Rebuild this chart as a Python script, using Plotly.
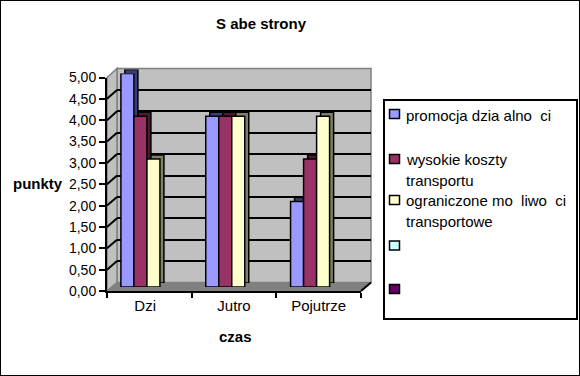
import plotly.graph_objects as go

# ---------------- data ----------------
categories = ["Dzi", "Jutro", "Pojutrze"]
tick_labels = ["Dzi\u00a0\u00a0", "Jutro", "Pojutrze"]
series_names = [
    "promocja dzia\u00a0alno\u00a0\u00a0ci",
    "wysokie koszty\ntransportu",
    "ograniczone mo\u00a0\u00a0liwo\u00a0\u00a0ci\ntransportowe",
    "",
    "",
]
series_colors = ["#9999FF", "#993366", "#FFFFCC", "#CCFFFF", "#660066"]
series_shades = ["#3D3D7A", "#4D1A33", "#80806A", "#668080", "#330033"]
promocja = [5, 4, 2]
koszty = [4, 4, 3]
mozliwosci = [3, 4, 4]
series_values = [promocja, koszty, mozliwosci]
y_ticks = [0, 0.5, 1, 1.5, 2, 2.5, 3, 3.5, 4, 4.5, 5]
title_text = "S abe strony"
y_title = "punkty"
x_title = "czas"

# ---------------- geometry helpers ----------------
W, H = 580, 376
def px(x):
    return x / W
def py(y):
    return 1 - y / H

FRONT = dict(x0=107, x1=361, yb=291, yt=77.5)
WALL = dict(x0=117, x1=371, yb=282.5, yt=68.5)
MID = dict(x0=98, x1=352.5, yb=287, yt=73.5)
SH = 4  # 3d depth of bars

def fy_front(v):
    return FRONT["yb"] - v * (FRONT["yb"] - FRONT["yt"]) / 5
def fy_wall(v):
    return WALL["yb"] - v * (WALL["yb"] - WALL["yt"]) / 5

fig = go.Figure()

# dummy trace so that the back-wall subplot exists
fig.add_trace(go.Scatter(x=[0, 1], y=[0, 5], mode="none", xaxis="x", yaxis="y",
                         hoverinfo="skip", showlegend=False))
# shadow (side/top) bars
for vals, shade in zip(series_values, series_shades):
    fig.add_trace(go.Bar(x=categories, y=vals, xaxis="x2", yaxis="y2",
                         marker=dict(color=shade, line=dict(color="black", width=1.5)),
                         hoverinfo="skip", showlegend=False))
# front bars
for vals, name, col in zip(series_values, series_names, series_colors):
    fig.add_trace(go.Bar(x=categories, y=vals, xaxis="x3", yaxis="y3", name=name,
                         marker=dict(color=col, line=dict(color="black", width=1.5)),
                         showlegend=False))
# dummy trace to define the front category axis
fig.add_trace(go.Scatter(x=tick_labels, y=[0] * len(tick_labels), mode="none",
                         xaxis="x4", yaxis="y4", hoverinfo="skip", showlegend=False))

hidden = dict(showgrid=False, zeroline=False, showline=False, showticklabels=False, ticks="",
              automargin=False)

fig.update_layout(
    width=W, height=H, autosize=False,
    margin=dict(l=0, r=0, t=0, b=0, pad=0, autoexpand=False),
    paper_bgcolor="white", plot_bgcolor="rgba(0,0,0,0)",
    showlegend=False, barmode="group", bargap=0.54, bargroupgap=0,
    separators=",.",
    font=dict(family="Liberation Sans, Arial, sans-serif", size=15, color="black"),
    xaxis=dict(domain=[px(WALL["x0"]), px(WALL["x1"])], anchor="y", range=[0, 1], **hidden),
    yaxis=dict(domain=[py(WALL["yb"]), py(WALL["yt"])], anchor="x", range=[0, 5],
               tickvals=y_ticks[1:-1], showgrid=True, gridcolor="black", gridwidth=2,
               zeroline=False, showline=False, showticklabels=False, ticks="", automargin=False),
    xaxis2=dict(domain=[px(MID["x0"] + SH), px(MID["x1"] + SH)], anchor="y2",
                type="category", range=[-0.5, 2.5], **hidden),
    yaxis2=dict(domain=[py(MID["yb"] - SH), py(MID["yt"] - SH)], anchor="x2", range=[0, 5], **hidden),
    xaxis3=dict(domain=[px(MID["x0"]), px(MID["x1"])], anchor="y3",
                type="category", range=[-0.5, 2.5], **hidden),
    yaxis3=dict(domain=[py(MID["yb"]), py(MID["yt"])], anchor="x3", range=[0, 5], **hidden),
    xaxis4=dict(domain=[px(FRONT["x0"]), px(FRONT["x1"])], anchor="y4",
                type="category", range=[-0.5, 2.5], tickson="boundaries",
                ticks="outside", ticklen=5, tickwidth=1.5, tickcolor="black",
                showline=True, linecolor="black", linewidth=2, showgrid=False, zeroline=False,
                tickfont=dict(size=15), automargin=False),
    yaxis4=dict(domain=[py(FRONT["yb"]), py(FRONT["yt"])], anchor="x4", range=[0, 5],
                tickvals=y_ticks, tickformat=".2f",
                ticks="outside", ticklen=6, tickwidth=1.5, tickcolor="black",
                showline=True, linecolor="black", linewidth=2, showgrid=False, zeroline=False,
                tickfont=dict(size=14), automargin=False),
)

shapes = []
# outer border
shapes.append(dict(type="rect", xref="paper", yref="paper", x0=0, y0=0, x1=1, y1=1,
                   line=dict(color="black", width=2), layer="above"))
# back wall
shapes.append(dict(type="rect", xref="x domain", yref="y domain", x0=0, y0=0, x1=1, y1=1,
                   fillcolor="#C0C0C0", line=dict(color="#808080", width=1.5), layer="below"))
# side wall
side = "M {},{} L {},{} L {},{} L {},{} Z".format(
    px(FRONT["x0"]), py(FRONT["yb"]), px(FRONT["x0"]), py(FRONT["yt"]),
    px(WALL["x0"]), py(WALL["yt"]), px(WALL["x0"]), py(WALL["yb"]))
shapes.append(dict(type="path", xref="paper", yref="paper", path=side,
                   fillcolor="#C0C0C0", line=dict(color="#808080", width=1.5), layer="below"))
# floor
floor = "M {},{} L {},{} L {},{} L {},{} Z".format(
    px(FRONT["x0"]), py(FRONT["yb"]), px(FRONT["x1"]), py(FRONT["yb"]),
    px(WALL["x1"]), py(WALL["yb"]), px(WALL["x0"]), py(WALL["yb"]))
shapes.append(dict(type="path", xref="paper", yref="paper", path=floor,
                   fillcolor="#808080", line=dict(color="#808080", width=1), layer="below"))
# diagonal grid lines on the side wall
for v in y_ticks[1:-1]:
    shapes.append(dict(type="line", xref="paper", yref="paper",
                       x0=px(FRONT["x0"]), y0=py(fy_front(v)), x1=px(WALL["x0"]), y1=py(fy_wall(v)),
                       line=dict(color="black", width=2), layer="below"))
# right front edge of floor
shapes.append(dict(type="line", xref="paper", yref="paper",
                   x0=px(FRONT["x1"]), y0=py(FRONT["yb"]), x1=px(WALL["x1"]), y1=py(WALL["yb"]),
                   line=dict(color="black", width=2), layer="above"))

# legend box
LEG = dict(x0=384, x1=577, y0=100, y1=319)
shapes.append(dict(type="rect", xref="paper", yref="paper",
                   x0=px(LEG["x0"]), x1=px(LEG["x1"]), y0=py(LEG["y1"]), y1=py(LEG["y0"]),
                   fillcolor="white", line=dict(color="black", width=2), layer="above"))

annotations = []
row_centers = [114, 159, 200, 245.5, 289]
line_step = 20
for name, col, yc in zip(series_names, series_colors, row_centers):
    shapes.append(dict(type="rect", xref="paper", yref="paper",
                       x0=px(389.5), x1=px(399.5), y0=py(yc + 4.5), y1=py(yc - 4.5),
                       fillcolor=col, line=dict(color="black", width=1.5), layer="above"))
    for k, line in enumerate(name.split("\n")):
        if not line:
            continue
        annotations.append(dict(text=line, xref="paper", yref="paper",
                                x=px(404), y=py(yc + 1 + k * line_step),
                                xanchor="left", yanchor="middle", showarrow=False,
                                font=dict(size=15)))

annotations.append(dict(text="<b>" + title_text + "</b>", xref="paper", yref="paper",
                        x=px(261), y=py(24), xanchor="center", yanchor="middle",
                        showarrow=False, font=dict(size=15)))
annotations.append(dict(text="<b>" + y_title + "</b>", xref="paper", yref="paper",
                        x=px(38), y=py(184), xanchor="center", yanchor="middle",
                        showarrow=False, font=dict(size=15)))
annotations.append(dict(text="<b>" + x_title + "</b>", xref="paper", yref="paper",
                        x=px(235), y=py(336), xanchor="center", yanchor="middle",
                        showarrow=False, font=dict(size=15)))

fig.update_layout(shapes=shapes, annotations=annotations)
fig.write_html("out.html", config={"displayModeBar": False},
               post_script="document.body.style.margin='0';document.body.style.overflow='hidden';")
